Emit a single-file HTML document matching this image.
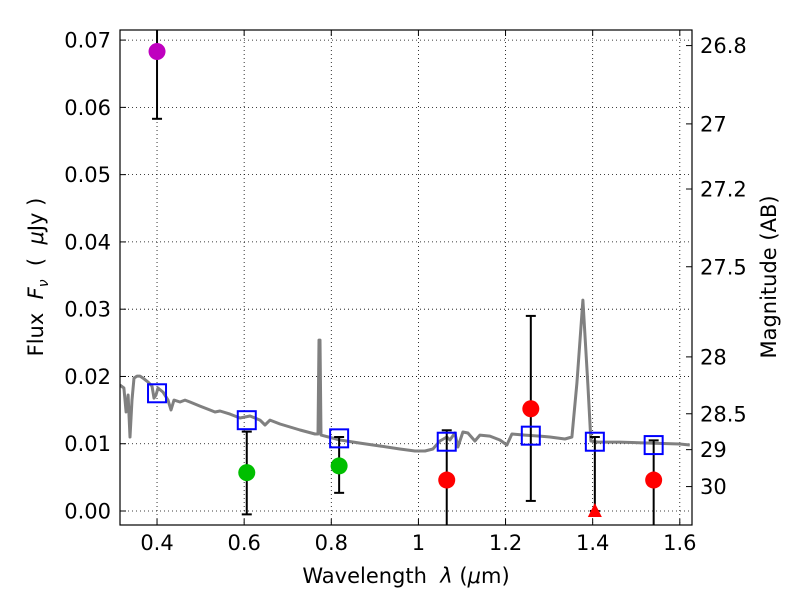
<!DOCTYPE html>
<html><head><meta charset="utf-8"><style>
html,body{margin:0;padding:0;background:#fff;}
svg{display:block;font-family:"DejaVu Sans","Liberation Sans",sans-serif;}
</style></head><body>
<svg id="c" width="800" height="600"></svg>
<script>
const specX=[0.315,0.324,0.3289,0.3335,0.338,0.3426,0.3472,0.3541,0.361,0.3679,0.3793,0.3885,0.3931,0.3977,0.4023,0.4138,0.4252,0.4321,0.439,0.4528,0.4642,0.4757,0.4987,0.5216,0.5331,0.5446,0.5675,0.5905,0.6134,0.6363,0.6478,0.6593,0.6822,0.7052,0.7281,0.7626,0.7694,0.7717,0.774,0.7763,0.8199,0.8658,0.9117,0.9576,0.992,1.015,1.0333,1.0494,1.0654,1.0723,1.0838,1.0907,1.1022,1.1136,1.1297,1.1412,1.1641,1.187,1.2031,1.2146,1.2444,1.2789,1.3018,1.3362,1.3523,1.3637,1.3775,1.389,1.3959,1.412,1.4624,1.5313,1.6,1.6229];
const specY=[0.01872,0.01828,0.01471,0.01724,0.0110,0.0165,0.01976,0.02006,0.02006,0.01976,0.01917,0.01857,0.01679,0.01724,0.01828,0.01768,0.01649,0.01501,0.01649,0.0162,0.01649,0.0162,0.0156,0.01501,0.01471,0.01486,0.01441,0.01382,0.01412,0.01352,0.01278,0.01352,0.01293,0.01248,0.01204,0.01144,0.01144,0.02541,0.02541,0.01129,0.01055,0.0101,0.00966,0.00921,0.00892,0.00892,0.00921,0.0104,0.011,0.01055,0.01159,0.00951,0.01174,0.01159,0.0104,0.01129,0.01114,0.01055,0.00981,0.01144,0.01129,0.01114,0.011,0.0107,0.011,0.019,0.03135,0.01872,0.0104,0.01025,0.01025,0.0101,0.00996,0.00981];
const modelX=[0.4,0.606,0.818,1.065,1.258,1.405,1.54];
const modelY=[0.0175,0.0135,0.0108,0.0103,0.0112,0.0103,0.0098];
const obsX=[0.4,0.606,0.818,1.065,1.258,1.405,1.54];
const obsY=[0.0683,0.0057,0.0067,0.0046,0.0152,0.0,0.0046];
const obsLo=[0.0583,-0.0005,0.0027,-0.01,0.0015,0.0,-0.01];
const obsHi=[0.09,0.0118,0.011,0.0120,0.029,0.011,0.0105];
const obsColor=["#bf00bf","#00bf00","#00bf00","#ff0000","#ff0000","#ff0000","#ff0000"];
const obsShape=["circle","circle","circle","circle","circle","triangle","circle"];
const xTicks=[0.4,0.6,0.8,1,1.2,1.4,1.6];
const xTickLabels=["0.4","0.6","0.8","1","1.2","1.4","1.6"];
const yTicks=[0,0.01,0.02,0.03,0.04,0.05,0.06,0.07];
const yTickLabels=["0.00","0.01","0.02","0.03","0.04","0.05","0.06","0.07"];
const magTicks=[26.8,27,27.2,27.5,28,28.5,29,30];
const magTickLabels=["26.8","27","27.2","27.5","28","28.5","29","30"];

const L=120,R=692,T=30,B=525;
const X0=0.315,X1=1.628,Y0=-0.00208,Y1=0.0715;
const sx=v=>L+(v-X0)/(X1-X0)*(R-L);
const sy=v=>B-(v-Y0)/(Y1-Y0)*(B-T);
const NS="http://www.w3.org/2000/svg";
const svg=document.getElementById('c');
function el(tag,attrs,parent){const e=document.createElementNS(NS,tag);for(const k in attrs)e.setAttribute(k,attrs[k]);(parent||svg).appendChild(e);return e;}
const defs=el('defs',{});
const cp=el('clipPath',{id:'clip'},defs);el('rect',{x:L,y:T,width:R-L,height:B-T},cp);

const grid=el('g',{});


xTicks.forEach(v=>{el('line',{x1:sx(v),x2:sx(v),y1:T,y2:B,stroke:'#000','stroke-width':0.8,'stroke-dasharray':'1,3'},grid);});
yTicks.forEach(v=>{el('line',{x1:L,x2:R,y1:sy(v),y2:sy(v),stroke:'#000','stroke-width':0.8,'stroke-dasharray':'1,3'},grid);});

const g=el('g',{'clip-path':'url(#clip)'});
let d=specX.map((x,i)=>(i?'L':'M')+sx(x).toFixed(1)+','+sy(specY[i]).toFixed(1)).join('');
const sp=el('path',{d:d,fill:'none',stroke:'#808080','stroke-width':3,'stroke-linejoin':'round'},g);



obsX.forEach((x,i)=>{
  const px=sx(x);
  const eb=el('g',{},g);
  
  
  el('line',{x1:px,x2:px,y1:sy(obsLo[i]),y2:sy(obsHi[i]),stroke:'#000','stroke-width':2},eb);
  el('line',{x1:px-5,x2:px+5,y1:sy(obsLo[i]),y2:sy(obsLo[i]),stroke:'#000','stroke-width':2},eb);
  el('line',{x1:px-5,x2:px+5,y1:sy(obsHi[i]),y2:sy(obsHi[i]),stroke:'#000','stroke-width':2},eb);
});
modelX.forEach((x,i)=>{
  const r=el('rect',{x:sx(x)-9,y:sy(modelY[i])-9,width:18,height:18,fill:'none',stroke:'#0000ff','stroke-width':2},g);
  
  
});
obsX.forEach((x,i)=>{
  const px=sx(x),py=sy(obsY[i]);
  let m;
  if(obsShape[i]==='triangle'){m=el('polygon',{points:`${px},${py-8} ${px-7},${py+6} ${px+7},${py+6}`,fill:obsColor[i]},g);}
  else m=el('circle',{cx:px,cy:py,r:8.5,fill:obsColor[i]},g);
  
  
});

const fr=el('rect',{x:L,y:T,width:R-L,height:B-T,fill:'none',stroke:'#000','stroke-width':1.2});



xTicks.forEach((v,i)=>{
  el('line',{x1:sx(v),x2:sx(v),y1:B,y2:B-6,stroke:'#000'});
  el('line',{x1:sx(v),x2:sx(v),y1:T,y2:T+6,stroke:'#000'});
  const t=el('text',{x:sx(v),y:B+25,'font-size':21,'text-anchor':'middle'});t.textContent=xTickLabels[i];
  
  
});
yTicks.forEach((v,i)=>{
  el('line',{x1:L,x2:L+6,y1:sy(v),y2:sy(v),stroke:'#000'});
  const t=el('text',{x:L-9,y:sy(v)+7.5,'font-size':21,'text-anchor':'end'});t.textContent=yTickLabels[i];
  
  
});
magTicks.forEach((m,i)=>{
  const f=Math.pow(10,(23.9-m)/2.5);const y=sy(f);
  el('line',{x1:R-6,x2:R,y1:y,y2:y,stroke:'#000'});
  const t=el('text',{x:R+8,y:y+7.5,'font-size':21});t.textContent=magTickLabels[i];
  
  
});

const xl=el('text',{x:406,y:583,'font-size':21,'text-anchor':'middle'});
xl.innerHTML='Wavelength\u00a0\u00a0<tspan font-style="italic">λ</tspan> (<tspan font-style="italic">μ</tspan>m)';


const yl=el('text',{x:0,y:0,'font-size':21,'text-anchor':'middle',transform:'translate(43,277) rotate(-90)'});
yl.innerHTML='Flux\u00a0\u00a0<tspan font-style="italic">F</tspan><tspan font-style="italic" font-size="14" dy="5">ν</tspan><tspan dy="-5">\u00a0\u00a0(\u00a0\u00a0</tspan><tspan font-style="italic">μ</tspan>Jy )';


const rl=el('text',{x:0,y:0,'font-size':21,'text-anchor':'middle',transform:'translate(776,277) rotate(-90)'});
rl.textContent='Magnitude (AB)';


</script>
</body></html>
